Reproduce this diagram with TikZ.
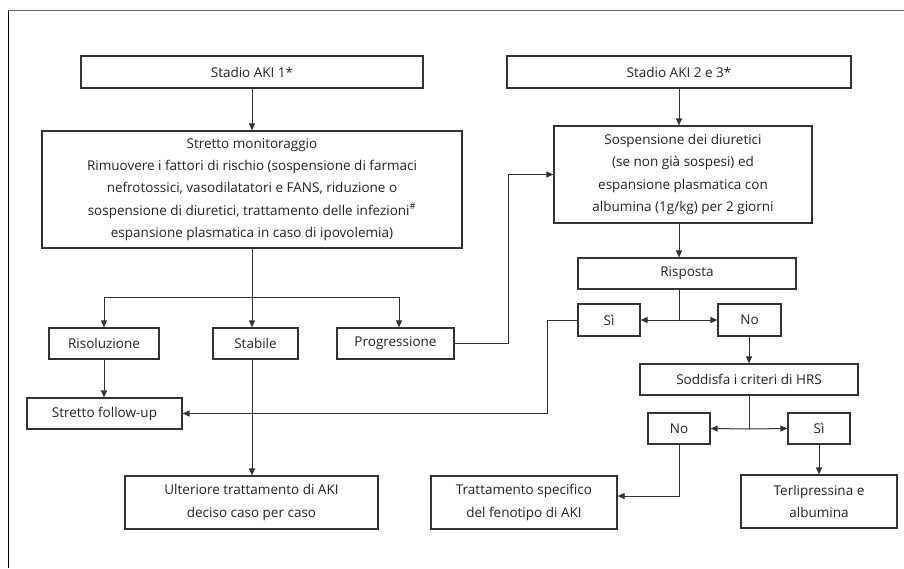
\documentclass[tikz,border=0pt]{standalone}
\usepackage{fontspec}
\setmainfont{Open Sans}
\usetikzlibrary{arrows.meta,calc}
\definecolor{ln}{HTML}{333333}
\definecolor{tx}{HTML}{222222}
\begin{document}
\begin{tikzpicture}[x=1pt,y=-1pt,
  bx/.style={draw=ln,line width=1.2pt,inner sep=0pt,text=tx,align=center,
    font=\fontsize{13.5}{22.3}\selectfont},
  arr/.style={draw=ln,line width=1pt,-{Triangle[length=7pt,width=6pt]}},
  ln/.style={draw=ln,line width=1pt}]
\useasboundingbox (0,0) rectangle (904,568);
% frame
\draw[gray!80!black,line width=1.3pt] (8,10.7) -- (904,10.7);
\draw[black,line width=1pt] (8,10.7) -- (8,568);
% boxes
\node[bx,minimum width=342pt,minimum height=32pt] (aki1) at (252,72) {Stadio AKI 1*};
\node[bx,minimum width=344pt,minimum height=32pt] (aki2) at (679,72) {Stadio AKI 2 e 3*};
\node[bx,minimum width=420pt,minimum height=117pt] (mon) at (252,189.5) {Stretto monitoraggio\\Rimuovere i fattori di rischio (sospensione di farmaci\\nefrotossici, vasodilatatori e FANS, riduzione o\\sospensione di diuretici, trattamento delle infezioni\textsuperscript{\#}\\espansione plasmatica in caso di ipovolemia)};
\node[bx,minimum width=258pt,minimum height=97pt] (sos) at (683,174.5) {Sospensione dei diuretici\\(se non già sospesi) ed\\espansione plasmatica con\\albumina (1g/kg) per 2 giorni};
\node[bx,minimum width=218pt,minimum height=31pt] (risp) at (687,273.5) {Risposta};
\node[bx,minimum width=62pt,minimum height=32pt] (si1) at (609,320) {Sì};
\node[bx,minimum width=63pt,minimum height=32pt] (no1) at (749.5,320) {No};
\node[bx,minimum width=218pt,minimum height=31pt] (hrs) at (749,379.5) {Soddisfa i criteri di HRS};
\node[bx,minimum width=62pt,minimum height=31pt] (no2) at (679,428.5) {No};
\node[bx,minimum width=62pt,minimum height=31pt] (si2) at (819,428.5) {Sì};
\node[bx,minimum width=186pt,minimum height=53pt] (trat) at (524,502.5) {Trattamento specifico\\del fenotipo di AKI};
\node[bx,minimum width=156pt,minimum height=53pt] (terl) at (819,501.5) {Terlipressina e\\albumina};
\node[bx,minimum width=110pt,minimum height=31pt] (ris) at (104,343.5) {Risoluzione};
\node[bx,minimum width=85pt,minimum height=31pt] (stab) at (255.5,343.5) {Stabile};
\node[bx,minimum width=117pt,minimum height=31pt] (prog) at (395.5,343.5) {Progressione};
\node[bx,minimum width=155pt,minimum height=31pt] (fu) at (104.5,413.5) {Stretto follow-up};
\node[bx,minimum width=253pt,minimum height=53pt] (ult) at (251.5,502.5) {Ulteriore trattamento di AKI\\deciso caso per caso};
% junction coordinates
\coordinate (jL) at (252,297);
\coordinate (j1) at (679,320);
\coordinate (j2) at (749,429);
% left column
\draw[arr] (aki1.south) -- (mon.north);
\draw[arr] (mon.south) -- (mon.south |- stab.north);
\draw[ln] (jL -| ris.north) -- (jL -| 399,0);
\draw[arr] (jL -| ris.north) -- (ris.north);
\draw[arr] (jL -| 399,0) -- (prog.north -| 399,0);
\draw[arr] (ris.south) -- (ris.south |- fu.north);
\draw[arr] (stab.south -| mon.south) -- (ult.north -| mon.south);
% progression to right
\draw[arr] (prog.east) -- (508,343.5) |- (sos.west);
% right column
\draw[arr] (aki2.south) -- (aki2.south |- sos.north);
\draw[arr] (aki2.south |- sos.south) -- (aki2.south |- risp.north);
\draw[ln] (aki2.south |- risp.south) -- (j1);
\draw[arr] (j1) -- (si1.east);
\draw[arr] (j1) -- (no1.west);
\draw[arr] (no1.south -| j2) -- (hrs.north -| j2);
\draw[ln] (hrs.south -| j2) -- (j2);
\draw[arr] (j2) -- (no2.east);
\draw[arr] (j2) -- (si2.west);
\draw[arr] (si2.south) -- (terl.north);
\draw[arr] (no2.south) |- ([yshift=6.5pt]trat.east);
\draw[arr] (si1.west) -- (547,320) |- (fu.east);
\end{tikzpicture}
\end{document}
